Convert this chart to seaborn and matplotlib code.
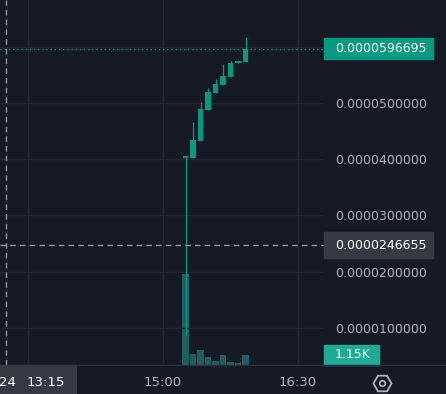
import numpy as np
import pandas as pd
import matplotlib
matplotlib.use('Agg')
import matplotlib.pyplot as plt
import matplotlib.transforms as mtransforms
from matplotlib.patches import Rectangle
from matplotlib.lines import Line2D
import seaborn as sns


# 5 minute candles
times = ['15:15', '15:20', '15:25', '15:30', '15:35', '15:40', '15:45', '15:50', '15:55']
opens = [0.0000403, 0.0000403, 0.0000433, 0.0000488, 0.0000519, 0.0000533, 0.0000547, 0.0000571, 0.0000574]
closes = [0.0000404, 0.0000435, 0.0000490, 0.0000520, 0.0000534, 0.0000549, 0.0000572, 0.0000575, 0.0000596695]
highs = [0.0000406, 0.0000467, 0.0000502, 0.0000527, 0.0000543, 0.0000570, 0.0000575, 0.0000575, 0.0000618]
lows = [0.0000087, 0.0000403, 0.0000433, 0.0000488, 0.0000519, 0.0000533, 0.0000547, 0.0000571, 0.0000574]
volumes = [10460, 1260, 1760, 920, 490, 1150, 380, 230, 1150]

last_price = 0.0000596695
cross_price = 0.0000246655
cross_time = '13:15'
last_volume = 1150
last_volume_label = '1.15K'

price_ticks = [0.00001, 0.00002, 0.00003, 0.00004, 0.00005, 0.00006]
time_ticks = ['13:30', '15:00', '16:30']
time_labels = ['', '15:00', '16:30']

BG = '#161A25'
GRID = '#232632'
BORDER = '#2A2E39'
TEXT = '#B2B5BE'
UP = '#089981'
VOL = '#26A69A'
CROSS = '#9598A1'
LABEL_BG = '#363A45'


def to_min(s):
    h, m = s.split(':')
    return int(h) * 60 + int(m)


df = pd.DataFrame({'t': [to_min(t) for t in times], 'open': opens, 'close': closes,
                   'high': highs, 'low': lows, 'volume': volumes})

sns.set_theme(style='dark', rc={'axes.facecolor': BG, 'figure.facecolor': BG,
                                'axes.edgecolor': BORDER, 'grid.color': GRID})
plt.rcParams['font.family'] = ['DejaVu Sans']

W, H = 446, 394
plot_w, plot_h = 324, 365
fig = plt.figure(figsize=(W / 100, H / 100), dpi=100)
ax = fig.add_axes([0, (H - plot_h) / H, plot_w / W, plot_h / H])
vax = ax.twinx()
ax.set_zorder(2)
vax.set_zorder(1)
ax.patch.set_visible(False)
vax.patch.set_facecolor(BG)

# volume pane
sns.barplot(x=df['t'], y=df['volume'], native_scale=True, width=0.87, color=VOL,
            saturation=1, alpha=0.5, linewidth=0, errorbar=None, ax=vax)
vax.set_ylim(0, last_volume * plot_h / 10)
vax.set_yticks([])
vax.set_xlabel('')
vax.set_ylabel('')

# candles
ax.vlines(df['t'], df['low'], df['high'], color=UP, lw=0.9, zorder=3)
ylim = (0.00000335, 0.0000684)
px = (ylim[1] - ylim[0]) / plot_h
body = np.maximum(df['close'] - df['open'], 1.4 * px)
ax.bar(df['t'], body, bottom=df['open'], width=3.4, color=UP, linewidth=0, zorder=3)

# price line and crosshair
ax.axhline(last_price, color=UP, lw=1, ls=(0, (1, 2)), zorder=2)
ax.axhline(cross_price, color=CROSS, lw=1, ls=(0, (4, 3)), zorder=4)
ax.axvline(to_min(cross_time), color=CROSS, lw=1, ls=(0, (4, 3)), zorder=4)

ax.set_ylim(*ylim)
ax.set_xlim(900 - 163 / 1.5, 900 + (plot_w - 163) / 1.5)

ax.set_yticks(price_ticks)
ax.set_yticklabels([f'{v:.10f}' if v < 0.00006 else '' for v in price_ticks])
ax.yaxis.tick_right()
ax.set_xticks([to_min(t) for t in time_ticks])
ax.set_xticklabels(time_labels)
ax.grid(True, color=GRID, lw=1)
ax.set_axisbelow(True)
ax.tick_params(axis='y', length=0, pad=8, labelcolor=TEXT, labelsize=9)
ax.tick_params(axis='x', length=0, pad=8, labelcolor=TEXT, labelsize=9.5)
for a in (ax, vax):
    for side in ('top', 'left', 'right', 'bottom'):
        a.spines[side].set_visible(False)

# separator between chart and time scale, full width
fig.add_artist(Line2D([0, 1], [(H - plot_h) / H] * 2, color=BORDER, lw=1,
                      transform=fig.transFigure))

# right axis labels
trans = mtransforms.blended_transform_factory(fig.transFigure, ax.transData)
ax.add_patch(Rectangle((plot_w / W, last_price - 10.5 * px), 109 / W, 21 * px,
                       transform=trans, color=UP, clip_on=False, zorder=5))
ax.text(335 / W, last_price, f'{last_price:.10f}', transform=trans, color='white',
        fontsize=9, ha='left', va='center', clip_on=False, zorder=6)
ax.add_patch(Rectangle((plot_w / W, cross_price - 13 * px), 109 / W, 26 * px,
                       transform=trans, color=LABEL_BG, clip_on=False, zorder=5))
ax.text(335 / W, cross_price, f'{cross_price:.10f}', transform=trans, color='white',
        fontsize=9, ha='left', va='center', clip_on=False, zorder=6)

vpx = vax.get_ylim()[1] / plot_h
vtrans = mtransforms.blended_transform_factory(fig.transFigure, vax.transData)
vax.add_patch(Rectangle((plot_w / W, last_volume - 10 * vpx), 55 / W, 20 * vpx,
                        transform=vtrans, color='#22AB94', clip_on=False, zorder=5))
vax.text(335 / W, last_volume, last_volume_label, transform=vtrans, color='white',
         fontsize=9, ha='left', va='center', clip_on=False, zorder=6)

# time crosshair label
fig.patches.append(Rectangle((0, 0), 76 / W, (H - plot_h) / H, transform=fig.transFigure,
                             color=LABEL_BG, zorder=5))
fig.text(-1 / W, (H - 382) / H, '24', color='white', fontsize=9.5, ha='left', va='center', zorder=6)
fig.text(45.5 / W, (H - 382) / H, cross_time, color='white', fontsize=9.5, ha='center',
         va='center', zorder=6)

# settings icon
fig.add_artist(Line2D([382 / W], [(H - 383) / H], marker='H', ms=13, mfc='none', mec=TEXT,
                      mew=1.3, transform=fig.transFigure))
fig.add_artist(Line2D([382 / W], [(H - 383) / H], marker='o', ms=4, mfc='none', mec=TEXT,
                      mew=1.2, transform=fig.transFigure))

fig.savefig('out.png', dpi=100, facecolor=BG)
